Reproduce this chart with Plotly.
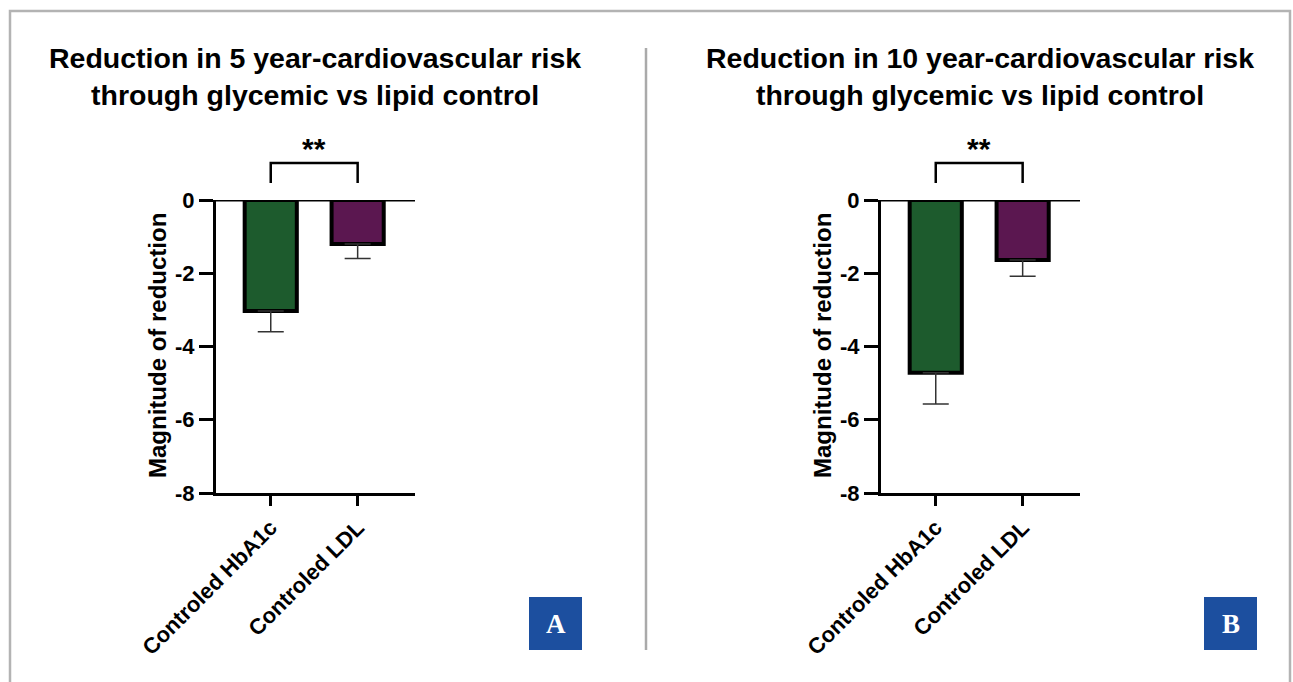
import plotly.graph_objects as go

categories = ["Controled HbA1c", "Controled LDL"]
values_5yr = [-3.03, -1.2]
err_5yr = [0.57, 0.4]
values_10yr = [-4.72, -1.64]
err_10yr = [0.85, 0.44]
y_ticks = [0, -2, -4, -6, -8]
titles = ["Reduction in 5 year-cardiovascular risk<br>through glycemic vs lipid control",
          "Reduction in 10 year-cardiovascular risk<br>through glycemic vs lipid control"]
panel_labels = ["A", "B"]
bar_colors = ["#1d5b2d", "#5b1750"]

W, H = 1293, 682
FONT = "Liberation Sans, Arial, sans-serif"

def px(x):
    return x / W

def py(y):
    return 1 - y / H

fig = go.Figure()

panels = [
    dict(vals=values_5yr, err=err_5yr, x0=216, x1=415, xa="x", ya="y", title_x=315, box_x=529, ytitle_x=157),
    dict(vals=values_10yr, err=err_10yr, x0=881, x1=1080, xa="x2", ya="y2", title_x=980, box_x=1204, ytitle_x=822),
]

for i, p in enumerate(panels):
    fig.add_trace(go.Bar(
        x=categories, y=p["vals"], xaxis=p["xa"], yaxis=p["ya"],
        marker=dict(color=bar_colors, line=dict(color="black", width=4)),
        width=0.6,
        error_y=dict(type="data", symmetric=False, array=[0, 0], arrayminus=p["err"],
                     color="#333333", thickness=1.5, width=13),
        showlegend=False,
    ))
    sfx = "" if i == 0 else "2"
    fig.layout["xaxis" + sfx] = dict(
        domain=[px(p["x0"]), px(p["x1"])], range=[-0.63, 1.66], anchor=p["ya"],
        showline=True, linecolor="black", linewidth=3,
        ticks="outside", ticklen=10, tickwidth=3, tickcolor="black",
        tickangle=-45, tickfont=dict(family=FONT, size=22, color="black", weight="bold"),
        showgrid=False, zeroline=False, fixedrange=True, automargin=False,
    )
    fig.layout["yaxis" + sfx] = dict(
        domain=[py(493), py(200)], range=[-8, 0], anchor=p["xa"],
        showline=True, linecolor="black", linewidth=3,
        ticks="outside", ticklen=14, tickwidth=3, tickcolor="black",
        tickvals=y_ticks, ticktext=[str(v) for v in y_ticks],
        tickfont=dict(family=FONT, size=22, color="black", weight="bold"),
        showgrid=False, zeroline=False, fixedrange=True, automargin=False,
    )
    # y-axis title
    fig.add_annotation(x=px(p["ytitle_x"]), y=py(346), xref="paper", yref="paper",
                       xanchor="center", yanchor="middle",
                       text="<b>Magnitude of reduction</b>", textangle=-90, showarrow=False,
                       font=dict(family=FONT, size=24, color="black"))
    # zero baseline
    fig.add_shape(type="line", xref=p["xa"], yref=p["ya"], x0=-0.63, x1=1.66, y0=0, y1=0,
                  line=dict(color="black", width=3), layer="above")
    # significance bracket
    fig.add_shape(type="path", xref=p["xa"], yref="paper",
                  path=f"M 0 {py(183)} L 0 {py(163)} L 1 {py(163)} L 1 {py(183)}",
                  line=dict(color="black", width=2.5))
    fig.add_annotation(x=0.5, y=py(148), xref=p["xa"], yref="paper", text="<b>**</b>",
                       xanchor="center", yanchor="middle",
                       showarrow=False, font=dict(family=FONT, size=30, color="black"))
    # title
    fig.add_annotation(x=px(p["title_x"]), y=py(76), xref="paper", yref="paper",
                       xanchor="center", yanchor="middle",
                       text="<b>" + titles[i] + "</b>", showarrow=False, align="center",
                       font=dict(family=FONT, size=28.5, color="black"))
    # panel label box
    fig.add_shape(type="rect", xref="paper", yref="paper",
                  x0=px(p["box_x"]), x1=px(p["box_x"] + 53), y0=py(650), y1=py(597),
                  fillcolor="#1c4f9f", line=dict(width=0))
    fig.add_annotation(x=px(p["box_x"] + 26.5), y=py(624), xref="paper", yref="paper",
                       xanchor="center", yanchor="middle",
                       text="<b>" + panel_labels[i] + "</b>", showarrow=False,
                       font=dict(family="Liberation Serif, DejaVu Serif, serif", size=27, color="white"))

# outer frame
fig.add_shape(type="path", xref="paper", yref="paper",
              path=f"M {px(10)} {py(700)} L {px(10)} {py(11)} L {px(1290)} {py(11)} L {px(1290)} {py(700)}",
              line=dict(color="#b3b3b3", width=2.5))
# divider
fig.add_shape(type="line", xref="paper", yref="paper", x0=px(646), x1=px(646), y0=py(650), y1=py(48),
              line=dict(color="#aaaaaa", width=2.5))

fig.update_layout(
    width=W, height=H, margin=dict(l=0, r=0, t=0, b=0, autoexpand=False),
    paper_bgcolor="white", plot_bgcolor="white", bargap=0.3,
)

fig.write_html("out.html", config={"displayModeBar": False},
               post_script="document.body.style.margin='0';document.body.style.overflow='hidden';")
